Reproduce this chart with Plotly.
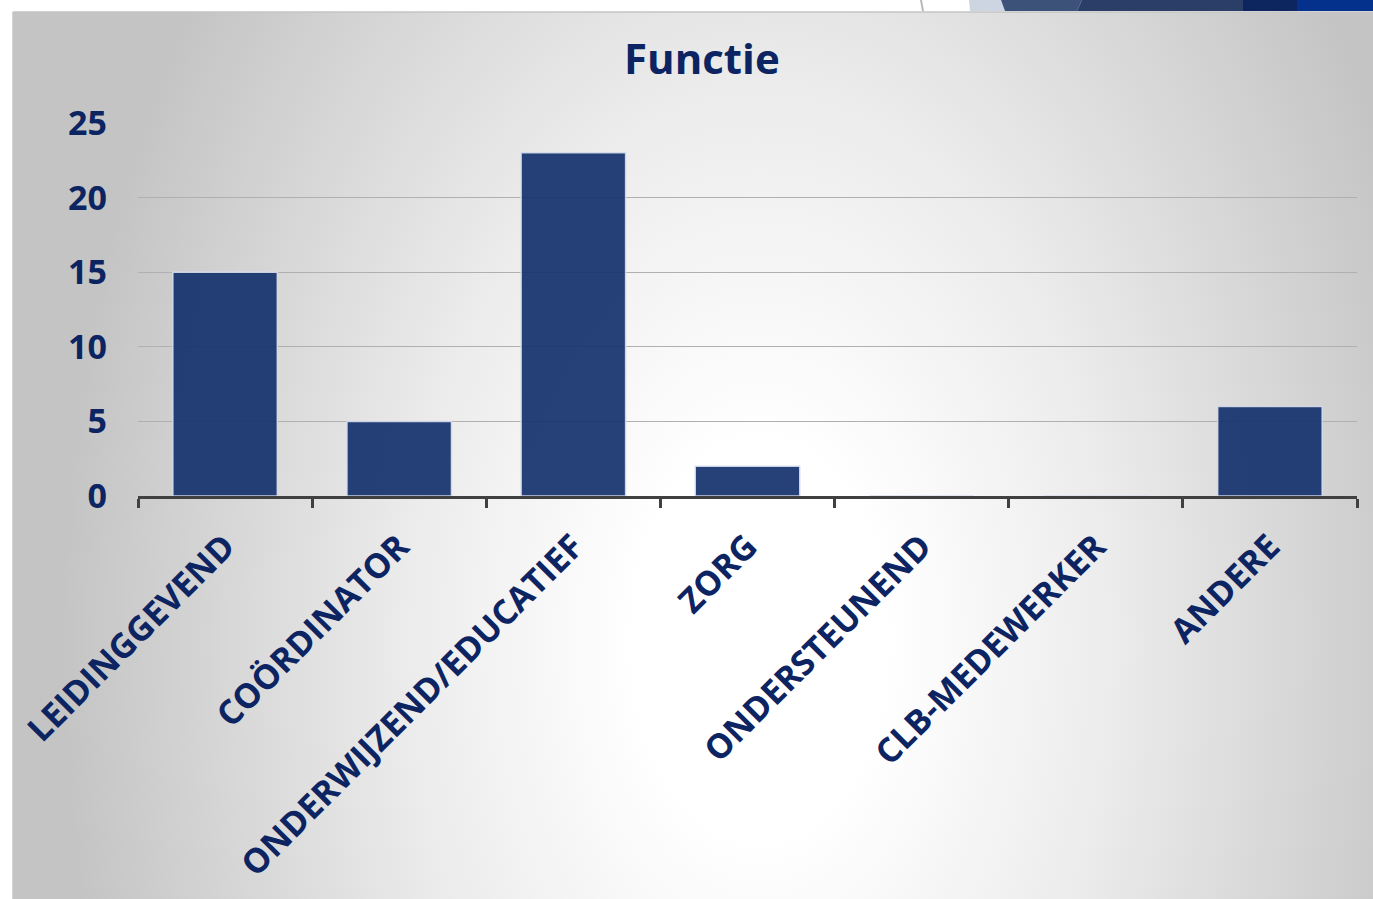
import base64
import plotly.graph_objects as go

# Data
categories = ["LEIDINGGEVEND", "COÖRDINATOR", "ONDERWIJZEND/EDUCATIEF", "ZORG",
              "ONDERSTEUNEND", "CLB-MEDEWERKER", "ANDERE"]
values = [15, 5, 23, 2, 0, 0, 6]
y_ticks = [0, 5, 10, 15, 20, 25]
title_text = "Functie"

W, H = 1373, 899
NAVY = "#0c2461"
FONT = "Open Sans"


def px(x):
    return x / W


def py(y):
    return 1 - y / H


# Panel background: soft elliptical gradient (white centre, grey edges)
panel_l, panel_t = 13, 12
pw, ph = W - panel_l, H - panel_t
cx, cy = 760 - panel_l, 640 - panel_t
svg = f"""<svg xmlns='http://www.w3.org/2000/svg' width='{pw}' height='{ph}' viewBox='0 0 {pw} {ph}' preserveAspectRatio='none'>
<defs><radialGradient id='g' gradientUnits='userSpaceOnUse' cx='0' cy='0' r='1'
 gradientTransform='translate({cx} {cy}) scale(700 1100)'>
<stop offset='0' stop-color='#ffffff'/>
<stop offset='0.18' stop-color='#ffffff'/>
<stop offset='0.5' stop-color='#ececec'/>
<stop offset='1' stop-color='#c4c4c4'/>
</radialGradient></defs>
<rect x='0' y='0' width='{pw}' height='{ph}' fill='url(#g)'/>
</svg>"""
svg_uri = "data:image/svg+xml;base64," + base64.b64encode(svg.encode()).decode()

fig = go.Figure()
fig.add_trace(go.Bar(
    x=categories, y=values,
    marker=dict(color="rgba(19,48,109,0.92)",
                line=dict(color="rgba(215,222,236,0.9)", width=1.5)),
    width=0.6,
    hoverinfo="x+y",
))

shapes = []
# panel frame
shapes.append(dict(type="line", xref="paper", yref="paper",
                   x0=px(panel_l), x1=px(panel_l), y0=py(panel_t), y1=0,
                   line=dict(color="#c4c4c4", width=1.5), layer="above"))
shapes.append(dict(type="line", xref="paper", yref="paper",
                   x0=px(panel_l), x1=1, y0=py(panel_t), y1=py(panel_t),
                   line=dict(color="#c4c4c4", width=1.5), layer="above"))

# decorative band along the top right
band = [
    ([(920, 0), (922, 0), (924, 11), (922, 11)], "#b8b8b8"),
    ([(969, 0), (1001, 0), (1005, 11), (970, 11)], "#cdd5e3"),
    ([(1001, 0), (1082, 0), (1077, 11), (1005, 11)], "#3d5279"),
    ([(1082, 0), (1243, 0), (1243, 11), (1077, 11)], "#2a3e68"),
    ([(1243, 0), (1297, 0), (1297, 11), (1243, 11)], "#0e2660"),
    ([(1297, 0), (1373, 0), (1373, 11), (1297, 11)], "#03318b"),
]
for pts, col in band:
    path = "M " + " L ".join(f"{px(x):.5f},{py(y):.5f}" for x, y in pts) + " Z"
    shapes.append(dict(type="path", xref="paper", yref="paper", path=path,
                       fillcolor=col, line=dict(width=0), layer="below"))

fig.update_layout(
    width=W, height=H, autosize=False,
    margin=dict(l=0, r=0, t=0, b=0, pad=0, autoexpand=False),
    paper_bgcolor="white", plot_bgcolor="rgba(0,0,0,0)",
    showlegend=False,
    images=[dict(source=svg_uri, xref="paper", yref="paper",
                 x=px(panel_l), y=py(panel_t), sizex=pw / W, sizey=ph / H,
                 xanchor="left", yanchor="top", sizing="stretch", layer="below")],
    shapes=shapes,
    annotations=[dict(text=f"<b>{title_text}</b>", xref="paper", yref="paper",
                      x=px(702), y=py(58), xanchor="center", yanchor="middle",
                      showarrow=False,
                      font=dict(family=FONT, size=42, color=NAVY))],
    bargap=0.4,
    xaxis=dict(
        domain=[px(138), px(1357)],
        type="category",
        automargin=False,
        tickson="boundaries",
        ticks="outside", ticklen=9, tickwidth=3, tickcolor="#404040",
        showline=True, linecolor="#404040", linewidth=3,
        showgrid=False, zeroline=False,
        tickangle=-45,
        tickfont=dict(family=FONT, size=34, color=NAVY, weight="bold"),
        ticklabelstandoff=14,
        fixedrange=True,
    ),
    yaxis=dict(
        domain=[py(496), py(123)],
        range=[0, 25],
        automargin=False,
        tickvals=y_ticks,
        showgrid=True, gridcolor="#b0b0b0", gridwidth=1,
        zeroline=False, showline=False, ticks="",
        tickfont=dict(family=FONT, size=34, color=NAVY, weight="bold"),
        ticklabelstandoff=30,
        fixedrange=True,
    ),
)

fig.write_html("out.html")
